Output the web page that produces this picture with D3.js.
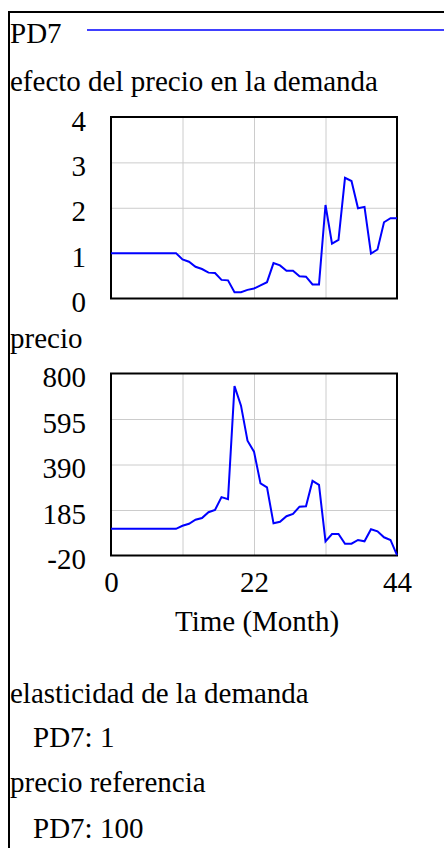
<!DOCTYPE html>
<html>
<head>
<meta charset="utf-8">
<script src="https://cdn.jsdelivr.net/npm/d3@7"></script>
<style>
  body { margin: 0; background: #fff; }
  svg { display: block; }
  text { font-family: "Liberation Serif", "Times New Roman", serif; font-size: 29px; fill: #000; }
</style>
</head>
<body>
<svg id="chart" width="444" height="848"></svg>
<script>
// months 0..44
const months = d3.range(0, 45);

// efecto del precio en la demanda
const efecto = [1, 1, 1, 1, 1, 1, 1, 1, 1, 1, 1,
  0.86, 0.81, 0.70, 0.65, 0.57, 0.56, 0.41, 0.40, 0.14, 0.14,
  0.19, 0.22, 0.29, 0.36, 0.78, 0.73, 0.61, 0.61, 0.49, 0.48,
  0.31, 0.31, 2.06, 1.21, 1.29, 2.66, 2.59, 1.99, 2.02, 0.99,
  1.08, 1.68, 1.77, 1.77];

// precio
const precio = [100, 100, 100, 100, 100, 100, 100, 100, 100, 100, 100,
  114, 123, 141, 149, 175, 185, 243, 234, 743, 655,
  497, 448, 305, 287, 125, 132, 157, 167, 200, 202,
  316, 298, 44, 77, 77, 33, 33, 50, 44, 98,
  89, 62, 50, -18];

const efectoTicks = [0, 1, 2, 3, 4];
const precioTicks = [-20, 185, 390, 595, 800];
const timeTicks = [0, 22, 44];
const timeGrid = [11, 22, 33];

const svg = d3.select('#chart');

// outer frame (left and top edges)
svg.append('path')
  .attr('d', 'M9,848 V12 H444')
  .attr('fill', 'none')
  .attr('stroke', '#000')
  .attr('stroke-width', 2);

// legend
svg.append('text').attr('x', 10).attr('y', 43).text('PD7');
svg.append('line')
  .attr('x1', 87).attr('x2', 444).attr('y1', 30).attr('y2', 30)
  .attr('stroke', '#0000ff').attr('stroke-width', 1.5);

var x = d3.scaleLinear().domain([0, 44]).range([111, 397]);

function panel(title, titleY, values, ticks, top, bottom) {
  svg.append('text').attr('x', 10).attr('y', titleY).text(title);

  var y = d3.scaleLinear().domain([ticks[0], ticks[ticks.length - 1]]).range([bottom, top]);
  var g = svg.append('g');

  // horizontal grid
  g.append('g')
    .attr('transform', 'translate(111,0)')
    .call(d3.axisLeft(y).tickValues(ticks.slice(1, -1)).tickSize(-286).tickFormat(''))
    .call(s => s.select('.domain').remove())
    .call(s => s.selectAll('line').attr('stroke', '#cccccc').attr('stroke-width', 1));

  // vertical grid
  g.append('g')
    .attr('transform', 'translate(0,' + bottom + ')')
    .call(d3.axisBottom(x).tickValues(timeGrid).tickSize(-(bottom - top)).tickFormat(''))
    .call(s => s.select('.domain').remove())
    .call(s => s.selectAll('line').attr('stroke', '#cccccc').attr('stroke-width', 1));

  // y labels
  var ya = g.append('g')
    .attr('transform', 'translate(111,0)')
    .call(d3.axisLeft(y).tickValues(ticks).tickSize(0).tickPadding(25).tickFormat(d => String(d)));
  ya.select('.domain').remove();
  ya.attr('font-family', null).attr('font-size', null);
  ya.selectAll('text').attr('dy', 13);

  // frame
  g.append('rect')
    .attr('x', x(0)).attr('y', top)
    .attr('width', x(44) - x(0)).attr('height', bottom - top)
    .attr('fill', 'none').attr('stroke', '#000').attr('stroke-width', 2);

  // data line
  var line = d3.line().x((d, i) => x(months[i])).y(d => y(d));
  g.append('path')
    .datum(values)
    .attr('d', line)
    .attr('fill', 'none')
    .attr('stroke', '#0000ff')
    .attr('stroke-width', 2);
  return y;
}

panel('efecto del precio en la demanda', 91, efecto, efectoTicks, 117, 298.5);
panel('precio', 348, precio, precioTicks, 373.5, 555.5);

// time axis labels
var xa = svg.append('g')
  .attr('transform', 'translate(0,555.5)')
  .call(d3.axisBottom(x).tickValues(timeTicks).tickSize(0).tickPadding(0).tickFormat(d => String(d)));
xa.select('.domain').remove();
xa.attr('font-family', null).attr('font-size', null);
xa.selectAll('text').attr('dy', 36.5);

svg.append('text').attr('x', 257).attr('y', 631).attr('text-anchor', 'middle').text('Time (Month)');

// constants
svg.append('text').attr('x', 10).attr('y', 703).text('elasticidad de la demanda');
svg.append('text').attr('x', 33).attr('y', 747).text('PD7: 1');
svg.append('text').attr('x', 10).attr('y', 792).text('precio referencia');
svg.append('text').attr('x', 33).attr('y', 838).text('PD7: 100');
</script>
</body>
</html>
